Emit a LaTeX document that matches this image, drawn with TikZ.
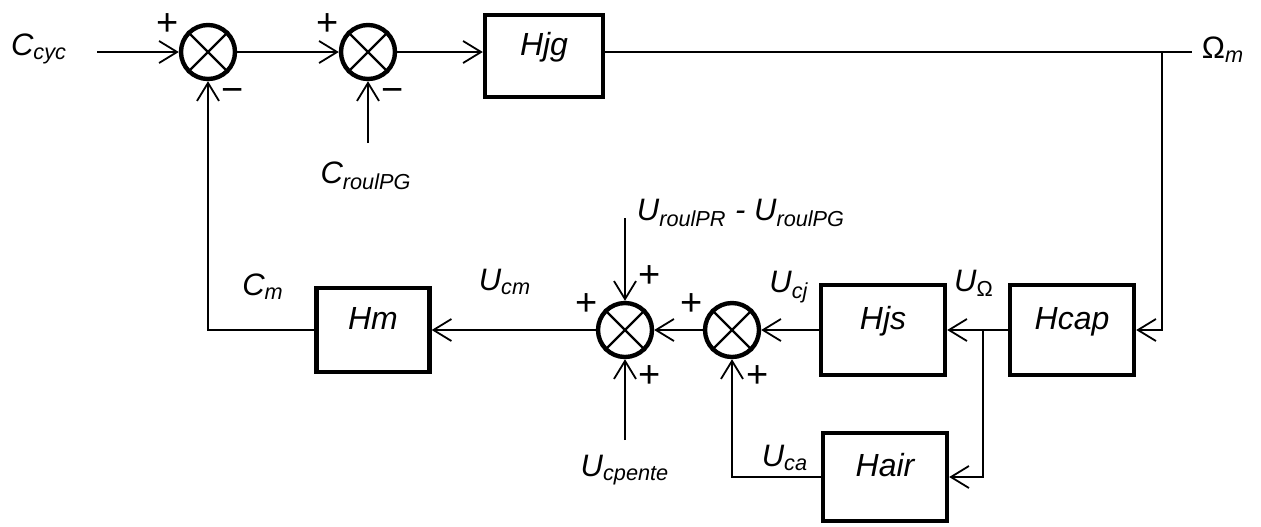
\documentclass[tikz,border=0pt]{standalone}
\usepackage{fontspec}
\setmainfont{Liberation Sans}
\usetikzlibrary{arrows.meta}

\begin{document}
\begin{tikzpicture}[x=0.5pt,y=-0.5pt,>={Straight Barb[length=9pt,width=11pt]},line width=0.9pt]
        \tikzset{
            sumpt/.style={circle,draw,line width=2.2pt,minimum size=27pt,inner sep=0pt},
            bloc/.style={draw,line width=2.2pt,inner sep=0pt,font=\fontsize{16}{19}\selectfont\itshape,text height=11pt,text depth=12pt},
            lbl/.style={font=\fontsize{15.5}{18}\selectfont\itshape,inner sep=1pt},
            sgn/.style={font=\fontsize{19}{22}\selectfont,inner sep=0pt}
        }
        \useasboundingbox (0,0) rectangle (1261,526);

        \node[sumpt] (s1) at (208,52) {};
        \node[sumpt] (s2) at (368,52) {};
        \node[sumpt] (s3) at (732,330) {};
        \node[sumpt] (s4) at (625,330) {};
        \foreach \s in {s1,s2,s3,s4} {
            \draw[line width=1.2pt] (\s.45) -- (\s.225) (\s.135) -- (\s.315);
        }

        \node[bloc,minimum width=59pt,minimum height=41pt] (hjg) at (544,56) {Hjg};
        \node[bloc,minimum width=56.5pt,minimum height=42pt] (hm) at (373,330) {Hm};
        \node[bloc,minimum width=62pt,minimum height=45pt] (hjs) at (883,330) {Hjs};
        \node[bloc,minimum width=62pt,minimum height=45pt] (hcap) at (1072,330) {Hcap};
        \node[bloc,minimum width=62pt,minimum height=44pt] (hair) at (885,477) {Hair};

        \coordinate (cin) at (97,52);
        \coordinate (omout) at (1192,52);
        \coordinate (br1) at (1162,52);
        \coordinate (br2) at (983,330);
        \coordinate (cpg) at (368,143);
        \coordinate (upr) at (625,218);
        \coordinate (upente) at (625,440);

        \draw[->] (cin) -- (s1);
        \draw[->] (s1) -- (s2);
        \draw[->] (s2) -- (hjg.west |- s2);
        \draw (hjg.east |- s2) -- (omout);
        \draw[->] (br1) |- (hcap);
        \draw[->] (hcap) -- (hjs);
        \draw[->] (br2) |- (hair);
        \draw[->] (hjs) -- (s3);
        \draw[->] (s3) -- (s4);
        \draw[->] (s4) -- (hm);
        \draw[->] (hm) -| (s1);
        \draw[->] (hair) -| (s3);
        \draw[->] (cpg) -- (s2);
        \draw[->] (upr) -- (s4);
        \draw[->] (upente) -- (s4);

        \node[lbl] (lccyc) at (39,49) {C\textsubscript{cyc}};
        \node[lbl] (lcpg) at (366,176) {C\textsubscript{roulPG}};
        \node[lbl] (lom) at (1223,50) {\upshape Ω\textsubscript{\itshape m}};
        \node[lbl] (lcm) at (263,287) {C\textsubscript{m}};
        \node[lbl] (lucm) at (505,282) {U\textsubscript{cm}};
        \node[lbl] (lupr) at (741,213) {U\textsubscript{roulPR} - U\textsubscript{roulPG}};
        \node[lbl] (lucj) at (789,287) {U\textsubscript{cj}};
        \node[lbl] (luom) at (974,283) {U\textsubscript{\upshape Ω}};
        \node[lbl] (luca) at (785,458) {U\textsubscript{ca}};
        \node[lbl] (lupente) at (625,470) {U\textsubscript{cpente}};

        \node[sgn] (p1) at (168,25) {+};
        \node[sgn] (m1) at (233,95) {−};
        \node[sgn] (p2) at (328,25) {+};
        \node[sgn] (m2) at (393,95) {−};
        \node[sgn] (p4a) at (650,277) {+};
        \node[sgn] (p4b) at (587,305) {+};
        \node[sgn] (p4c) at (650,377) {+};
        \node[sgn] (p3a) at (692,305) {+};
        \node[sgn] (p3b) at (758,377) {+};
\end{tikzpicture}
\end{document}
